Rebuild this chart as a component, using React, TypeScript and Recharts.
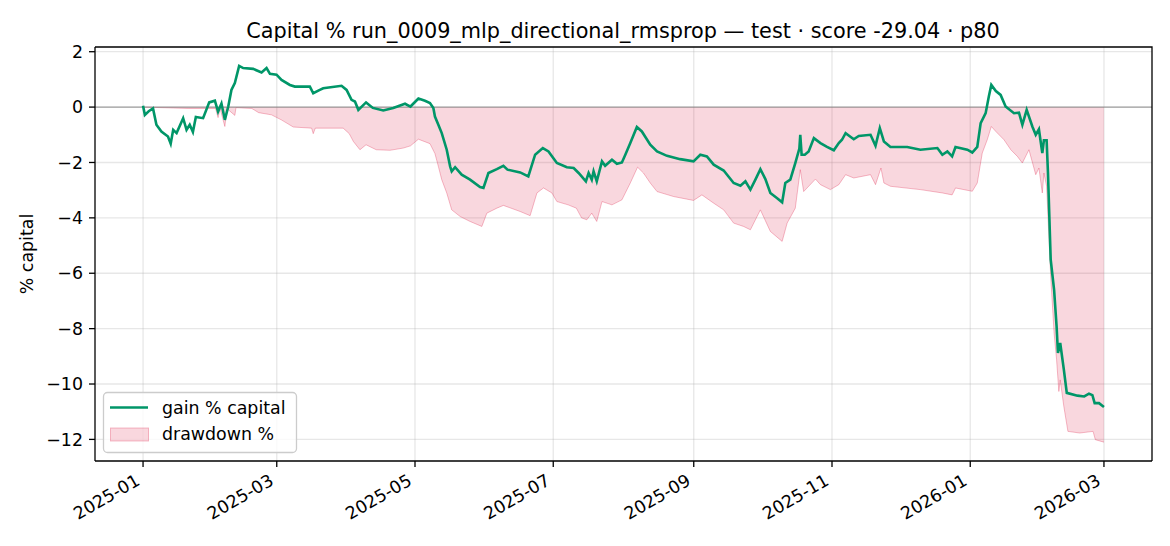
import React from "react";
import {
  ComposedChart, Line, Area, XAxis, YAxis, CartesianGrid, ReferenceLine,
} from "recharts";

// days since 2025-01-01
const gainDays = [
  0, 0.8, 2.5, 4.4, 5.9, 8.1, 11, 12.2, 13.3, 14.8, 17.7, 19.2, 20.6, 22, 23.3, 26.5, 29.2, 31.7, 33.1, 34.6,
  36.1, 37.6, 39, 40.5, 42.4, 44.2, 48.6, 52.3, 54.5, 56, 58.9, 61.1, 64.8, 67, 73.6, 75.1, 78, 79.5, 87.6, 89.8,
  92, 93.5, 95, 98.4, 101.4, 106, 110.4, 115.6, 118, 121.5, 124.4, 126.6, 128.1, 128.8, 130.3, 131.8, 134, 135.5, 136.2, 137.7,
  140.6, 144.3, 148.7, 150.2, 152.4, 156.1, 159, 160.8, 166.4, 170, 173, 176.4, 178.9, 182.6, 187, 190, 192.2, 195.4, 196.6, 198,
  198.8, 200.2, 202.5, 203.9, 206.9, 209.1, 211.3, 212.8, 215, 217.9, 220.1, 223.8, 226.8, 231.2, 237, 242.9, 245.9, 248.8, 251.8, 256.2,
  260.6, 263.6, 265.8, 268, 270.2, 272.4, 274.6, 276.8, 279.8, 282, 283.4, 285.6, 287.8, 289.6, 290, 290.6, 292, 293.7, 296, 298.9,
  301.8, 304.8, 307, 308.4, 310, 313.6, 315.8, 321, 323.2, 325.1, 326.9, 329.8, 337.2, 343, 350.5, 352.7, 354.9, 357, 358.5, 363.7,
  365.9, 368.1, 369.6, 371.8, 373.2, 374.3, 376.3, 378.4, 380.6, 384.3, 386.5, 388, 389.9, 392.4, 393.9, 395.3, 396.8, 397.5, 398.7, 399.3,
  400.5, 402, 403.1, 403.7, 404.7, 406.3, 407.6, 412.3, 415.3, 417.4, 418.9, 419.9, 421.8, 424,
];
const gainPct = [
  0.05, -0.28, -0.15, -0.05, -0.64, -0.88, -1.06, -1.32, -0.82, -0.94, -0.4, -0.82, -0.64, -0.9, -0.36, -0.4, 0.17, 0.23, -0.16, 0.13,
  -0.46, 0.02, 0.62, 0.87, 1.49, 1.41, 1.38, 1.25, 1.41, 1.2, 1.17, 0.98, 0.8, 0.74, 0.74, 0.5, 0.62, 0.68, 0.77, 0.62,
  0.26, 0.2, -0.1, 0.17, -0.03, -0.12, -0.03, 0.12, 0.02, 0.31, 0.23, 0.15, -0.03, -0.34, -0.64, -0.94, -1.54, -2.14, -2.32, -2.17,
  -2.44, -2.62, -2.89, -2.92, -2.38, -2.24, -2.12, -2.26, -2.36, -2.5, -1.72, -1.48, -1.6, -2.02, -2.17, -2.2, -2.38, -2.68, -2.38, -2.62,
  -2.32, -2.68, -1.96, -2.12, -1.9, -2.05, -2.0, -1.72, -1.3, -0.72, -0.88, -1.36, -1.6, -1.76, -1.88, -1.96, -1.72, -1.78, -2.08, -2.29,
  -2.74, -2.84, -2.68, -2.98, -2.62, -2.24, -2.6, -3.1, -3.29, -3.44, -2.74, -2.62, -2.02, -1.5, -1.0, -1.72, -1.72, -1.6, -1.12, -1.3,
  -1.44, -1.56, -1.3, -1.18, -0.94, -1.16, -1.04, -1.0, -1.4, -0.76, -1.24, -1.44, -1.44, -1.54, -1.48, -1.72, -1.6, -1.78, -1.44, -1.54,
  -1.64, -1.44, -0.58, -0.22, 0.38, 0.8, 0.58, 0.44, 0.02, -0.22, -0.2, -0.64, -0.1, -0.7, -1.0, -0.8, -1.66, -1.2, -1.2, -2.38,
  -5.51, -6.6, -7.92, -8.88, -8.52, -9.48, -10.32, -10.42, -10.45, -10.35, -10.4, -10.69, -10.69, -10.83,
];

const ddDays = [
  0, 20, 32, 33.1, 34, 36.1, 37, 40.5, 41, 48, 51, 56.7, 61, 66.3, 74.4, 75.1, 76, 88.3, 91, 92.8,
  95.7, 98.4, 102.9, 109, 114.8, 118, 121.5, 126.6, 128.8, 130.3, 131.8, 134, 136.2, 139.9, 144.3, 149.5, 151.7, 156.1, 159, 166.4,
  170.8, 173.8, 176.7, 180.4, 182.6, 187.6, 191.2, 193.5, 195.8, 198, 200.2, 202.5, 206.9, 211.3, 215, 218.2, 220.8, 223.8, 226.8, 234.1,
  242.9, 246.6, 251.8, 256.2, 260.6, 265, 268, 272.4, 274.6, 276.8, 282, 284.2, 287.8, 290, 291.5, 296.7, 298.9, 303.3, 307, 310,
  313.6, 321, 323.2, 325.6, 326.9, 329.8, 343, 352.7, 357, 358.5, 365.9, 368.1, 370.3, 372.5, 374.3, 376.3, 379.9, 382.9, 385.8, 388,
  390.9, 393.9, 395.3, 396.8, 397.5, 398.7, 400.5, 402, 403.1, 404.1, 404.7, 406.3, 408.1, 413.3, 419.2, 420.2, 424,
];
const ddPct = [
  0, -0.05, -0.05, -0.38, -0.05, -0.7, -0.05, -0.3, -0.02, -0.05, -0.2, -0.28, -0.46, -0.72, -0.76, -0.96, -0.76, -0.76, -0.96, -1.24,
  -1.54, -1.36, -1.54, -1.56, -1.48, -1.4, -1.16, -1.32, -1.68, -2.14, -2.62, -3.1, -3.71, -3.95, -4.13, -4.31, -3.83, -3.65, -3.55, -3.77,
  -3.92, -3.1, -2.92, -3.1, -3.41, -3.53, -3.65, -4.0, -4.07, -3.83, -4.13, -3.41, -3.53, -3.35, -2.74, -2.17, -2.38, -2.74, -3.05, -3.23,
  -3.37, -3.17, -3.47, -3.71, -4.19, -4.31, -4.43, -3.71, -4.1, -4.49, -4.85, -4.19, -3.65, -2.26, -3.05, -2.6, -2.8, -2.98, -2.8, -2.44,
  -2.56, -2.44, -2.8, -2.2, -2.74, -2.86, -2.98, -3.1, -3.17, -2.92, -3.04, -2.74, -1.66, -1.18, -0.7, -0.88, -1.18, -1.54, -1.78, -2.02,
  -1.54, -2.44, -2.2, -3.1, -2.38, -2.86, -6.11, -8.16, -9.12, -10.27, -9.85, -10.81, -11.71, -11.77, -11.71, -12.01, -12.1,
];

const xTickDays = [0, 59, 120, 181, 243, 304, 365, 424];
const xTickLabels = ["2025-01", "2025-03", "2025-05", "2025-07", "2025-09", "2025-11", "2026-01", "2026-03"];
const yTicks = [-12, -10, -8, -6, -4, -2, 0, 2];

const FONT = "DejaVu Sans, sans-serif";
const GREEN = "#009668";
const PINK = "#de2148";

const gainData = gainDays.map((d, i) => ({ day: d, gain: gainPct[i] }));
const ddData = ddDays.map((d, i) => ({ day: d, dd: ddPct[i] }));

function XTick(props: any) {
  const { x, y, payload } = props;
  const idx = xTickDays.indexOf(payload.value);
  return (
    <g transform={`translate(${x - 2},${y + 11})`}>
      <text transform="rotate(-30)" textAnchor="end" fontSize={17.4} fontFamily={FONT} fill="#000">
        {xTickLabels[idx]}
      </text>
    </g>
  );
}

const fmtY = (v: number) => (v < 0 ? "\u2212" + Math.abs(v) : String(v));

export default function App() {
  return (
    <div style={{ position: "absolute", left: 0, top: 0, width: 1170, height: 546, background: "#fff" }}>
      <ComposedChart width={1170} height={546} margin={{ top: 47, right: 18, bottom: 0, left: 0 }}>
        <CartesianGrid stroke="#b0b0b0" strokeOpacity={0.3} strokeWidth={1.3}
          horizontalValues={yTicks} verticalValues={xTickDays} />
        <XAxis dataKey="day" type="number" domain={[-21.2, 445.2]} ticks={xTickDays}
          height={85} tick={<XTick />} tickSize={6} tickMargin={6} interval={0}
          stroke="#000" strokeWidth={1.3} tickLine={{ stroke: "#000", strokeWidth: 1.3 }} allowDataOverflow />
        <YAxis type="number" domain={[-12.78, 2.17]} ticks={yTicks} width={95} tickFormatter={fmtY}
          tickSize={6} tickMargin={6} interval={0} allowDataOverflow
          tick={{ fontSize: 17.4, fontFamily: FONT, fill: "#000" }}
          stroke="#000" strokeWidth={1.3} tickLine={{ stroke: "#000", strokeWidth: 1.3 }} />
        <Area data={ddData} dataKey="dd" type="linear" baseValue={0} fill={PINK} fillOpacity={0.18}
          stroke={PINK} strokeOpacity={0.3} strokeWidth={1} isAnimationActive={false} dot={false} activeDot={false} />
        <ReferenceLine y={0} stroke="#808080" strokeOpacity={0.7} strokeWidth={1.3} />
        <Line data={gainData} dataKey="gain" type="linear" stroke={GREEN} strokeWidth={2.6}
          dot={false} activeDot={false} isAnimationActive={false} />
      </ComposedChart>
      <svg width={1170} height={546} style={{ position: "absolute", left: 0, top: 0, pointerEvents: "none" }}>
        {/* top and right spines */}
        <polyline points="95,47 1152,47 1152,461" fill="none" stroke="#000" strokeWidth={1.3} />
        <text x={623} y={38} textAnchor="middle" fontSize={20.8} fontFamily={FONT} fill="#000">
          Capital % run_0009_mlp_directional_rmsprop — test · score -29.04 · p80
        </text>
        <text transform="translate(33,254) rotate(-90)" textAnchor="middle" fontSize={17.4} fontFamily={FONT} fill="#000">
          % capital
        </text>
        <rect x={103.5} y={392.5} width={193} height={60} rx={4} fill="#fff" fillOpacity={0.8} stroke="#cccccc" strokeWidth={1.3} />
        <line x1={110} x2={148} y1={407.5} y2={407.5} stroke={GREEN} strokeWidth={2.6} />
        <text x={162} y={414} fontSize={17.4} fontFamily={FONT} fill="#000">gain % capital</text>
        <rect x={110.5} y={428} width={38} height={13} fill={PINK} fillOpacity={0.18} stroke={PINK} strokeOpacity={0.3} strokeWidth={1} />
        <text x={162} y={440} fontSize={17.4} fontFamily={FONT} fill="#000">drawdown %</text>
      </svg>
    </div>
  );
}
